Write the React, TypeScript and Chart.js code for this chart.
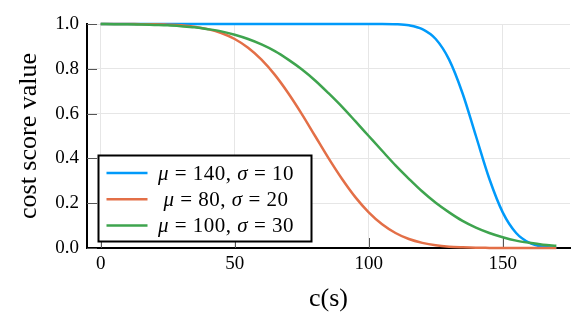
import React, { useEffect, useRef } from "react";
import { Chart, registerables } from "chart.js";

Chart.register(...registerables);

const xValues = [
  0, 5, 10, 15, 20, 25, 30, 35, 40, 45, 50, 55, 60, 65, 70, 75, 80, 85, 90, 95,
  100, 105, 110, 115, 120, 125, 130, 135, 140, 145, 150, 155, 160, 165, 170,
];

const blueValues = [
  1, 1, 1, 1, 1, 1, 1, 1, 1, 1, 1, 1, 1, 1, 1, 1, 1, 1, 1, 1,
  1, 1, 0.999, 0.994, 0.977, 0.933, 0.841, 0.691, 0.5, 0.309, 0.159, 0.067, 0.023, 0.006, 0.001,
];

const orangeValues = [
  1, 1, 1, 0.999, 0.999, 0.997, 0.994, 0.988, 0.977, 0.96, 0.933, 0.894, 0.841, 0.773, 0.691,
  0.599, 0.5, 0.401, 0.309, 0.227, 0.159, 0.106, 0.067, 0.04, 0.023, 0.012, 0.006, 0.003,
  0.001, 0.0005, 0.0002, 0.0001, 0, 0, 0,
];

const greenValues = [
  1, 0.999, 0.999, 0.998, 0.996, 0.994, 0.99, 0.985, 0.977, 0.967, 0.952, 0.933, 0.909,
  0.879, 0.841, 0.798, 0.748, 0.691, 0.631, 0.566, 0.5, 0.434, 0.369, 0.309, 0.252, 0.202,
  0.159, 0.121, 0.091, 0.067, 0.048, 0.033, 0.023, 0.015, 0.01,
];

const muValues = [140, 80, 100];
const sigmaValues = [10, 20, 30];
const seriesColors = ["#009AFA", "#E36F47", "#3EA44E"];

const xTicks = [0, 50, 100, 150];
const yTicks = [0, 0.2, 0.4, 0.6, 0.8, 1.0];

const xTitle = "c(s)";
const yTitle = "cost score value";

const FONT = "'Liberation Serif', 'DejaVu Serif', serif";

const toPoints = (vals: number[]) => vals.map((v, i) => ({ x: xValues[i], y: v }));

const innerTicksPlugin = {
  id: "innerTicks",
  beforeDatasetsDraw(chart: any) {
    const { ctx, chartArea, scales } = chart;
    ctx.save();
    ctx.strokeStyle = "#555";
    ctx.lineWidth = 1;
    const len = 10;
    xTicks.forEach((t) => {
      const px = Math.round(scales.x.getPixelForValue(t)) + 0.5;
      ctx.beginPath();
      ctx.moveTo(px, chartArea.bottom);
      ctx.lineTo(px, chartArea.bottom - len);
      ctx.stroke();
    });
    yTicks.forEach((t) => {
      const py = Math.round(scales.y.getPixelForValue(t)) + 0.5;
      ctx.beginPath();
      ctx.moveTo(chartArea.left, py);
      ctx.lineTo(chartArea.left + len, py);
      ctx.stroke();
    });
    ctx.restore();
  },
};

const boxLegendPlugin = {
  id: "boxLegend",
  afterDatasetsDraw(chart: any) {
    const { ctx, chartArea } = chart;
    const x0 = chartArea.left + 11.5;
    const y0 = chartArea.bottom - 92.5;
    const w = 213;
    const h = 86;
    ctx.save();
    ctx.fillStyle = "#fff";
    ctx.fillRect(x0, y0, w, h);
    ctx.lineWidth = 2;
    ctx.strokeStyle = "#000";
    ctx.strokeRect(x0, y0, w, h);
    const fontSize = 21;
    const regular = `${fontSize}px ${FONT}`;
    const italic = `italic ${fontSize}px ${FONT}`;
    const textCenter = x0 + 127.5;
    muValues.forEach((mu, i) => {
      const cy = y0 + 17.5 + i * 26.2;
      ctx.strokeStyle = seriesColors[i];
      ctx.lineWidth = 2.5;
      ctx.beginPath();
      ctx.moveTo(x0 + 8, cy);
      ctx.lineTo(x0 + 49, cy);
      ctx.stroke();
      const parts: [string, string][] = [
        ["\u03BC", italic],
        [` = ${mu}, `, regular],
        ["\u03C3", italic],
        [` = ${sigmaValues[i]}`, regular],
      ];
      (ctx as any).letterSpacing = "0.5px";
      let total = 0;
      parts.forEach(([t, f]) => {
        ctx.font = f;
        total += ctx.measureText(t).width;
      });
      let x = textCenter - total / 2;
      ctx.fillStyle = "#000";
      ctx.textBaseline = "middle";
      ctx.textAlign = "left";
      parts.forEach(([t, f]) => {
        ctx.font = f;
        ctx.fillText(t, x, cy + 1);
        x += ctx.measureText(t).width;
      });
      (ctx as any).letterSpacing = "0px";
    });
    ctx.restore();
  },
};

export default function App() {
  const canvasRef = useRef<HTMLCanvasElement | null>(null);

  useEffect(() => {
    document.body.style.margin = "0";
    const canvas = canvasRef.current;
    if (!canvas) return;
    const datasets = [blueValues, orangeValues, greenValues].map((vals, i) => ({
      label: `mu = ${muValues[i]}, sigma = ${sigmaValues[i]}`,
      data: toPoints(vals),
      borderColor: seriesColors[i],
      backgroundColor: seriesColors[i],
      borderWidth: 2.5,
      pointRadius: 0,
      cubicInterpolationMode: "monotone" as const,
      fill: false,
      clip: 5,
      order: 3 - i,
    }));
    const chart = new Chart(canvas, {
      type: "line",
      data: { datasets },
      plugins: [innerTicksPlugin, boxLegendPlugin],
      options: {
        animation: false,
        responsive: false,
        devicePixelRatio: 1,
        layout: { padding: { top: 24, right: 11, left: 0, bottom: 0 } },
        plugins: {
          legend: { display: false },
          tooltip: { enabled: false },
        },
        scales: {
          x: {
            type: "linear",
            min: -5.1,
            max: 175.1,
            afterBuildTicks: (scale: any) => {
              scale.ticks = xTicks.map((v) => ({ value: v }));
            },
            afterFit: (scale: any) => {
              scale.height = 82;
            },
            grid: { color: "#e6e6e6", lineWidth: 1, drawTicks: false },
            border: { color: "#000", width: 2 },
            ticks: {
              padding: 5,
              color: "#000",
              font: { family: FONT, size: 19 },
              callback: (v: any) => String(v),
            },
            title: {
              display: true,
              text: xTitle,
              color: "#000",
              font: { family: FONT, size: 26 },
              padding: { top: 0, bottom: 15 },
            },
          },
          y: {
            type: "linear",
            min: 0,
            max: 1,
            afterBuildTicks: (scale: any) => {
              scale.ticks = yTicks.map((v) => ({ value: v }));
            },
            afterFit: (scale: any) => {
              scale.width = 87;
            },
            grid: { color: "#e6e6e6", lineWidth: 1, drawTicks: false },
            border: { color: "#000", width: 2 },
            ticks: {
              padding: 8,
              color: "#000",
              font: { family: FONT, size: 19 },
              callback: (v: any) => Number(v).toFixed(1),
            },
            title: {
              display: true,
              text: yTitle,
              color: "#000",
              font: { family: FONT, size: 26 },
              padding: { top: 14, bottom: 0 },
            },
          },
        },
      },
    });
    return () => chart.destroy();
  }, []);

  return (
    <div style={{ width: 581, height: 330 }}>
      <canvas ref={canvasRef} width={581} height={330} style={{ display: "block" }} />
    </div>
  );
}
